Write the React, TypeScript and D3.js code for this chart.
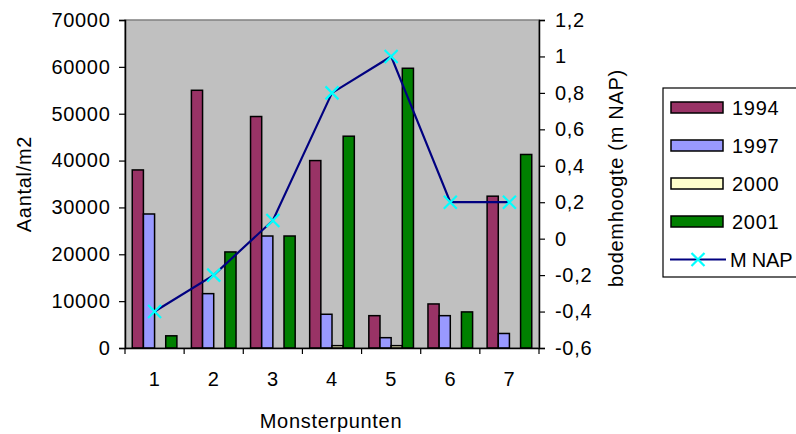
import { useEffect, useRef } from 'react';
import * as d3 from 'd3';

// Gegevens
const categories = ['1', '2', '3', '4', '5', '6', '7'];
const years = ['1994', '1997', '2000', '2001'];
const values1994 = [38000, 55000, 49400, 40000, 6900, 9400, 32400];
const values1997 = [28600, 11600, 23900, 7200, 2200, 6900, 3100];
const values2000 = [0, 0, 0, 500, 500, 0, 0];
const values2001 = [2600, 20500, 23900, 45200, 59700, 7700, 41300];
const mnap = [-0.4, -0.2, 0.1, 0.8, 1.0, 0.2, 0.2];
const leftTicks = [0, 10000, 20000, 30000, 40000, 50000, 60000, 70000];
const rightTicks = [-0.6, -0.4, -0.2, 0, 0.2, 0.4, 0.6, 0.8, 1, 1.2];
const yearColors = ['#993366', '#9999FF', '#FFFFCC', '#008000'];

export default function App() {
  const svgRef = useRef<SVGSVGElement>(null);

  useEffect(() => {
    if (!svgRef.current) return;
    const svg = d3.select(svgRef.current);
    svg.selectAll('*').remove();

    const font = '"Liberation Sans", Arial, sans-serif';
    const fs = 20;
    const ls = 0.7;
    const plot = { left: 125, right: 539, top: 20, bottom: 348 };

    const series = [values1994, values1997, values2000, values2001];

    const x = d3.scaleBand<string>()
      .domain(categories)
      .range([plot.left, plot.right])
      .padding(0);

    const yL = d3.scaleLinear().domain([0, 70000]).range([plot.bottom, plot.top]);
    const yR = d3.scaleLinear().domain([-0.6, 1.2]).range([plot.bottom, plot.top]);

    const bw = x.bandwidth() / (years.length + 1.3);
    const groupOffset = (x.bandwidth() - bw * years.length) / 2;

    // Plotgebied
    svg.append('rect')
      .attr('x', plot.left)
      .attr('y', plot.top)
      .attr('width', plot.right - plot.left)
      .attr('height', plot.bottom - plot.top)
      .attr('fill', '#C0C0C0')
      .attr('stroke', '#808080')
      .attr('stroke-width', 1.5);

    // Staven
    series.forEach((vals, si) => {
      svg.append('g')
        .selectAll('rect')
        .data(vals)
        .join('rect')
        .attr('x', (_d, i) => x(categories[i])! + groupOffset + si * bw)
        .attr('y', d => yL(d))
        .attr('width', bw)
        .attr('height', d => plot.bottom - yL(d))
        .attr('fill', yearColors[si])
        .attr('stroke', '#000')
        .attr('stroke-width', 1.5);
    });

    // Assen
    const axisL = svg.append('g')
      .attr('transform', `translate(${plot.left},0)`)
      .call(d3.axisLeft(yL).tickValues(leftTicks).tickSize(6).tickPadding(8.5).tickFormat(d => String(d)));
    const axisR = svg.append('g')
      .attr('transform', `translate(${plot.right},0)`)
      .call(d3.axisRight(yR).tickValues(rightTicks).tickSize(6).tickPadding(10)
        .tickFormat(d => String(Math.round((d as number) * 10) / 10).replace('.', ',')));
    const axisB = svg.append('g')
      .attr('transform', `translate(0,${plot.bottom})`)
      .call(d3.axisBottom(x).tickSize(0).tickPadding(24));

    // Tick-streepjes op categoriegrenzen
    svg.append('g')
      .selectAll('line')
      .data(d3.range(categories.length + 1))
      .join('line')
      .attr('x1', i => plot.left + i * x.bandwidth())
      .attr('x2', i => plot.left + i * x.bandwidth())
      .attr('y1', plot.bottom)
      .attr('y2', plot.bottom + 6)
      .attr('stroke', '#000')
      .attr('stroke-width', 1.2);

    [axisL, axisR, axisB].forEach(a => {
      a.select('.domain').attr('stroke', '#000').attr('stroke-width', 1.5);
      a.selectAll('.tick line').attr('stroke', '#000').attr('stroke-width', 1.2);
      a.selectAll('text')
        .attr('font-family', font)
        .attr('font-size', fs)
        .attr('letter-spacing', ls)
        .attr('fill', '#000');
    });

    // Lijn M NAP
    const line = d3.line<number>()
      .x((_d, i) => x(categories[i])! + x.bandwidth() / 2)
      .y(d => yR(d));

    svg.append('path')
      .datum(mnap)
      .attr('fill', 'none')
      .attr('stroke', '#000080')
      .attr('stroke-width', 2.2)
      .attr('d', line);

    const m = 6.5;
    const marker = (g: d3.Selection<SVGGElement, unknown, null, undefined>, cx: number, cy: number) => {
      g.append('path')
        .attr('d', `M${cx - m},${cy - m}L${cx + m},${cy + m}M${cx - m},${cy + m}L${cx + m},${cy - m}`)
        .attr('stroke', '#00FFFF')
        .attr('stroke-width', 2.2)
        .attr('fill', 'none');
    };
    const markers = svg.append('g');
    mnap.forEach((v, i) => marker(markers, x(categories[i])! + x.bandwidth() / 2, yR(v)));

    // Astitels
    const title = (tx: number, ty: number, rot: number, txt: string) =>
      svg.append('text')
        .attr('transform', `translate(${tx},${ty}) rotate(${rot})`)
        .attr('text-anchor', 'middle')
        .attr('font-family', font)
        .attr('font-size', fs)
        .attr('letter-spacing', ls)
        .text(txt);

    title(31, 184, -90, 'Aantal/m2');
    title(623, 178, -90, 'bodemhoogte (m NAP)');
    title(331, 428, 0, 'Monsterpunten');

    // Legenda
    const lg = svg.append('g');
    lg.append('rect')
      .attr('x', 663)
      .attr('y', 88)
      .attr('width', 160)
      .attr('height', 189)
      .attr('fill', '#fff')
      .attr('stroke', '#000')
      .attr('stroke-width', 1.2);

    const entries = [...years, 'M NAP'];
    entries.forEach((label, i) => {
      const cy = 107.5 + i * 38;
      const isLine = i >= years.length;
      if (!isLine) {
        lg.append('rect')
          .attr('x', 671)
          .attr('y', cy - 5.5)
          .attr('width', 52)
          .attr('height', 11)
          .attr('fill', yearColors[i])
          .attr('stroke', '#000')
          .attr('stroke-width', 1.5);
      } else {
        lg.append('line')
          .attr('x1', 670)
          .attr('x2', 726)
          .attr('y1', cy)
          .attr('y2', cy)
          .attr('stroke', '#000080')
          .attr('stroke-width', 2.2);
        marker(lg, 698, cy);
      }
      lg.append('text')
        .attr('x', isLine ? 730 : 732)
        .attr('y', cy)
        .attr('dy', '0.35em')
        .attr('font-family', font)
        .attr('font-size', fs)
        .attr('letter-spacing', isLine ? -0.2 : ls)
        .text(label);
    });
  }, []);

  return (
    <svg
      ref={svgRef}
      width={796}
      height={434}
      style={{ position: 'absolute', left: 0, top: 0, background: '#fff' }}
    />
  );
}
